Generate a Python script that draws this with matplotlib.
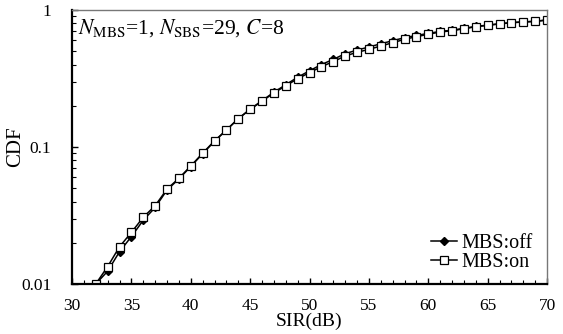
import matplotlib
matplotlib.use("Agg")
from matplotlib import pyplot as plt
from matplotlib.ticker import FixedLocator, MultipleLocator, LogLocator, NullFormatter, FixedFormatter

plt.rcParams["font.family"] = "Liberation Serif"
plt.rcParams["mathtext.fontset"] = "stix"

# SIR values (dB) and CDF
sir = list(range(32, 71))
cdf_on = [0.0100, 0.0134, 0.0187, 0.0238, 0.0307, 0.0373, 0.0493, 0.0591, 0.0727, 0.0900,
          0.111, 0.133, 0.161, 0.188, 0.216, 0.248, 0.280, 0.315, 0.349, 0.386,
          0.420, 0.462, 0.491, 0.516, 0.546, 0.577, 0.611, 0.639, 0.665, 0.691,
          0.706, 0.730, 0.755, 0.773, 0.791, 0.808, 0.817, 0.826, 0.845]
cdf_off = [0.0100, 0.0124, 0.0172, 0.0222, 0.0292, 0.0362, 0.0485, 0.0585, 0.0720, 0.0895,
           0.110, 0.133, 0.161, 0.189, 0.218, 0.251, 0.285, 0.323, 0.360, 0.400,
           0.436, 0.480, 0.510, 0.537, 0.567, 0.597, 0.628, 0.652, 0.675, 0.698,
           0.712, 0.735, 0.759, 0.776, 0.794, 0.810, 0.819, 0.828, 0.846]

fig = plt.figure(figsize=(5.63, 3.34), dpi=100)
ax = fig.add_axes([0.1279, 0.1497, 0.8437, 0.8203])

ax.plot(sir, cdf_off, color="black", lw=1.1, marker="D", markersize=4.5,
        markerfacecolor="black", markeredgecolor="black", label="MBS:off")
ax.plot(sir, cdf_on, color="black", lw=1.1, marker="s", markersize=5.8,
        markerfacecolor="white", markeredgecolor="black", markeredgewidth=0.9, label="MBS:on")

ax.set_yscale("log")
ax.set_xlim(30, 70)
ax.set_ylim(0.01, 1)

ax.xaxis.set_major_locator(MultipleLocator(5))
ax.xaxis.set_minor_locator(MultipleLocator(1))
ax.yaxis.set_major_locator(FixedLocator([0.01, 0.1, 1]))
ax.yaxis.set_major_formatter(FixedFormatter(["0.01", "0.1", "1"]))
ax.yaxis.set_minor_locator(LogLocator(base=10, subs=range(2, 10)))
ax.yaxis.set_minor_formatter(NullFormatter())

ax.tick_params(which="both", direction="in", top=False, right=False, labelsize=12.5)
ax.tick_params(axis="x", which="major", length=4, width=1, pad=10)
ax.tick_params(axis="x", which="minor", length=3, width=0.8)
ax.tick_params(axis="y", which="major", length=4, width=1, pad=15)
ax.tick_params(axis="y", which="minor", length=3, width=0.8)

for side in ["left", "bottom"]:
    ax.spines[side].set_linewidth(1.6)
    ax.spines[side].set_color("black")
for side in ["top", "right"]:
    ax.spines[side].set_linewidth(1.0)
    ax.spines[side].set_color("#777777")

ax.set_xlabel("SIR(dB)", fontsize=14, labelpad=-1)
ax.set_ylabel("CDF", fontsize=15, labelpad=-3)

ax.text(0.012, 0.975, r"$N_{\rm MBS}$=1, $N_{\rm SBS}$=29, $C$=8", transform=ax.transAxes,
        fontsize=15.5, va="top", ha="left")

ax.legend(loc="lower right", bbox_to_anchor=(0.995, 0.0), frameon=False, fontsize=14.5,
          handlelength=1.3, handletextpad=0.2, labelspacing=0.0, borderaxespad=0.2)

fig.savefig("out.png", dpi=100)
